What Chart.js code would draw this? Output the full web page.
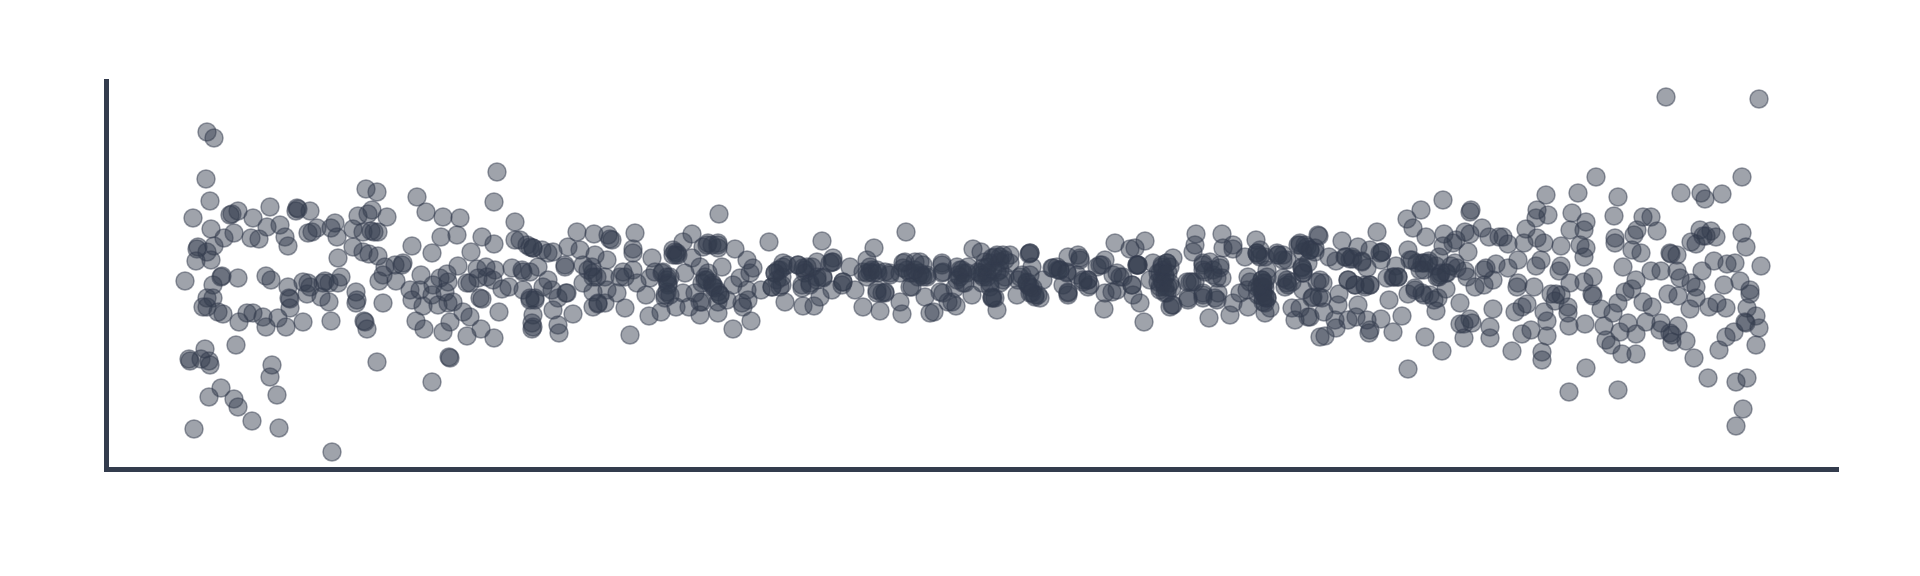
<!DOCTYPE html>
<html>
<head>
<meta charset="utf-8">
<title>Residuals</title>
<script src="https://cdn.jsdelivr.net/npm/chart.js@4"></script>
<style>
body { margin: 0; background: #fff; }
canvas { display: block; }
</style>
</head>
<body>
<canvas id="scatter" width="1920" height="576"></canvas>
<script>
// [index, residual], one list per stretch of the x axis
var leftPoints = [[107,143],[114,137],[106,96],[110,74],[93,57],[111,46],[124,37],[134,42],[138,64],[130,60],[132,61],[153,57],[170,68],[167,48],[180,50],[151,37],[159,36],[185,38],[188,29],[197,67],[196,64],[198,66],[210,64],[208,42],[212,43],[217,47],[231,47],[235,52],[237,38],[98,28],[97,26],[107,23],[114,29],[96,14],[111,15],[85,-6],[113,-10],[122,-1],[121,-2],[138,-3],[166,-1],[171,-5],[188,-12],[203,-7],[208,-8],[207,-19],[210,-12],[221,-22],[223,-8],[225,-6],[229,-8],[229,-27],[238,-8],[241,-2],[189,-23],[190,-24],[190,-33],[113,-23],[107,-23],[103,-32],[107,-32],[118,-37],[123,-39],[139,-47],[147,-38],[153,-38],[163,-42],[166,-52],[178,-43],[186,-52],[203,-47],[231,-46],[256,-17],[257,-25],[256,-28],[283,-28],[265,-47],[264,-46],[267,-54],[136,-70],[105,-74],[89,-84],[90,-86],[101,-84],[109,-86],[110,-90],[121,-113],[109,-122],[134,-124],[138,-132],[172,-90],[170,-102],[177,-120],[152,-146],[94,-154],[179,-153],[232,-177],[277,-87],[332,-107],[349,-82],[350,-83],[266,86],[277,83],[317,78],[326,63],[343,58],[360,57],[272,65],[258,59],[268,61],[287,58],[253,46],[263,43],[271,44],[274,43],[278,43],[253,28],[263,23],[269,21],[278,19],[312,29],[332,22],[341,38],[357,40],[382,38],[394,31],[371,23],[397,103],[394,73],[415,53],[415,35],[420,35],[427,30],[433,27],[238,17],[285,8],[295,10],[303,12],[302,10],[283,0],[279,-6],[296,-6],[321,0],[358,9],[377,6],[386,8],[395,5],[412,7],[422,5],[423,3],[310,-15],[312,-25],[323,-31],[320,-15],[333,-10],[332,-20],[338,-30],[340,-3],[347,1],[348,-7],[345,-17],[348,-28],[353,-27],[367,-8],[370,-8],[378,-3],[387,-2],[393,-5],[402,-14],[409,-12],[423,-15],[380,-23],[382,-24],[363,-37],[370,-42],[399,-37],[350,-47],[316,-46],[324,-54],[343,-57],[367,-61],[381,-54],[394,-63],[430,-23],[435,-25],[433,-40],[432,-48],[432,-54]];
var midLeftPoints = [[430,28],[433,27],[442,25],[448,22],[453,23],[468,28],[477,43],[494,41],[508,40],[510,36],[512,35],[480,25],[495,20],[507,15],[465,10],[465,8],[483,10],[492,8],[493,2],[488,5],[497,-2],[483,-8],[505,-2],[523,3],[533,5],[520,-2],[525,-2],[537,-8],[448,-5],[443,-12],[438,8],[430,3],[452,-15],[458,-23],[467,-18],[466,-18],[435,-23],[430,-25],[453,-35],[473,-39],[433,-52],[458,-50],[459,-58],[493,-17],[493,-32],[498,-28],[498,-29],[505,-28],[507,-15],[517,-18],[525,-33],[546,-20],[549,-41],[561,-37],[576,-32],[589,-32],[600,-40],[618,-38],[530,-60],[535,42],[533,26],[533,22],[552,17],[550,-3],[555,3],[562,2],[567,-2],[568,-8],[567,-17],[565,-23],[573,25],[577,22],[576,20],[583,33],[592,41],[592,17],[585,2],[583,-18],[600,8],[607,30],[608,32],[618,32],[618,27],[635,26],[619,61],[622,8],[605,-2],[612,-8],[618,-17],[620,-20],[600,-27],[602,-8],[595,-18],[627,-25],[633,-10],[640,-3],[647,15],[653,7],[650,2],[642,-28],[643,-32],[648,-25],[647,-15],[651,-46],[633,-54],[669,33],[661,-15],[672,-12],[675,2],[680,5],[683,12],[680,-12],[685,-27],[698,10],[703,7],[707,8],[702,-13],[703,-31],[714,-31],[720,-22],[710,-8],[717,-5],[723,-2],[732,-15],[722,34],[717,13],[732,13],[733,17],[743,-7],[755,-15],[750,8],[763,-32],[767,15],[774,27],[770,3],[767,2],[777,-18],[780,-36],[785,-18],[785,3],[790,0],[800,-27],[802,-39],[806,43],[805,13],[807,5],[810,-12],[815,13],[820,2],[823,10],[825,-22],[830,-38],[678,5],[682,-10],[705,5],[772,5],[777,5],[813,2],[818,-2],[607,-5],[613,-12],[567,-5],[493,-2],
	[575,23],[578,20],[573,20],[563,3],[570,-2],[568,-10],[565,-20],[570,-20],[603,28],[612,30],[618,30],[605,-5],[615,-13],[620,-20],[602,-27],[618,-27],[608,2],[613,-10],[675,2],[683,8],[672,-12],[677,-5],[682,-2],[687,10],[698,10],[705,2],[712,8],[717,-2],[710,-10],[723,-3],[702,-10],[733,13],[730,12],[743,-7],[742,-10],[763,3],[770,8],[773,2],[767,-2],[778,2],[790,2],[785,-17],[782,-18],[777,-15],[803,7],[810,2],[815,5],[822,0],[827,-2],[800,2],[812,-12],[803,12]];
var midRightPoints = [[820,13],[823,-2],[834,-37],[842,12],[842,2],[843,-18],[848,-27],[856,-31],[860,5],[860,-2],[863,-8],[855,-13],[872,-20],[868,8],[873,26],[881,23],[880,2],[883,-2],[887,8],[892,17],[897,20],[900,5],[905,15],[910,20],[892,-23],[895,-23],[897,-35],[890,-8],[903,-5],[917,-20],[920,-2],[930,22],[929,21],[932,8],[927,-7],[930,-12],[935,-20],[940,-23],[943,-5],[952,7],[957,8],[960,5],[967,3],[968,18],[978,20],[980,15],[968,-18],[968,-20],[963,-10],[988,-5],[990,-10],[997,8],[1005,15],[1002,10],[1015,32],[1030,26],[1035,27],[1045,34],[1037,10],[1038,10],[1017,2],[1020,-2],[1005,-18],[1012,-17],[1017,-15],[1004,-34],[1032,-10],[1033,-20],[1040,-28],[1044,-47],[1053,12],[1050,-5],[1062,8],[1063,5],[1067,12],[1073,17],[1062,-5],[1065,-12],[1067,-18],[1070,-32],[1073,-30],[1087,-7],[1088,-25],[1093,23],[1095,30],[1096,41],[1103,12],[1103,5],[1103,-20],[1103,-23],[1092,-7],[1110,13],[1113,5],[1117,-25],[1120,7],[1122,-3],[1118,-18],[1122,41],[1123,27],[1133,30],[1133,26],[1109,-43],[1130,-40],[1133,-28],[1148,-32],[1145,18],[1157,22],[1156,35],[1148,-2],[1140,-18],[1163,-8],[1165,-13],[1163,-22],[1165,-28],[1165,-38],[1170,-33],[1167,5],[1165,18],[1178,20],[1187,15],[1187,-8],[1185,-12],[1192,-33],[1195,-45],[1200,-33],[1208,-42],[1203,-15],[1212,-23],[1203,2],[1202,8],[1200,30],[1203,23],[1210,25],[1218,40],[1217,-7],[1219,-22],[1220,-62],[827,0],[882,0],[887,2],[893,5],[885,13],[900,18],[863,2],[857,8],[928,-10],[932,-18],[1058,2],[1060,-12],[1065,-2],[1068,-12],[1162,-12],[1162,-5],[1163,-18],[1167,-23],[1160,18],[958,5],
	[842,10],[843,3],[840,-17],[852,-27],[858,0],[862,5],[857,-5],[867,2],[865,-8],[878,3],[883,7],[887,-2],[890,12],[895,18],[900,13],[903,20],[897,3],[905,-2],[910,12],[882,-8],[890,-12],[900,-8],[893,-23],[892,-22],[930,22],[930,0],[922,0],[927,-8],[933,-13],[935,-22],[938,-20],[930,-18],[918,-5],[953,7],[960,5],[967,2],[977,0],[983,-7],[988,-12],[980,17],[968,-17],[988,-5],[983,-5],[1000,10],[1013,0],[1023,-2],[1032,-10],[1037,10],[1038,10],[1062,10],[1067,12],[1070,8],[1060,2],[1065,0],[1068,2],[1058,-7],[1063,-8],[1070,-8],[1060,-15],[1065,-18],[1072,-13],[1072,-30],[1090,-7],[1095,-7],[1103,10],[1105,3],[1113,0],[1117,-3],[1120,10],[1103,-18],[1115,-23],[1088,-23],[1157,22],[1160,25],[1162,-5],[1165,-8],[1160,-12],[1163,-17],[1158,-20],[1167,-23],[1163,-27],[1147,-15],[1150,-7],[1177,22],[1183,20],[1187,-5],[1188,-10],[1183,-3],[1203,2],[1202,7],[1200,32],[1207,28],[1158,20],[1163,-12],[1165,-22],[1157,-12],[1167,-2],[1178,20],[1183,15],[1192,-7],[1198,30],[1205,30],[1203,5],[1208,12],[1215,27]];
var rightPoints = [[1219,39],[1210,25],[1215,23],[1229,18],[1236,14],[1242,34],[1246,18],[1253,16],[1258,28],[1262,14],[1270,25],[1277,43],[1282,23],[1281,15],[1267,7],[1287,-3],[1294,-2],[1298,-2],[1296,9],[1308,25],[1310,15],[1317,12],[1324,12],[1329,14],[1320,5],[1336,9],[1341,2],[1346,2],[1351,9],[1355,12],[1365,4],[1344,41],[1343,29],[1339,18],[1356,35],[1368,23],[1343,75],[1321,65],[1307,56],[1313,47],[1326,38],[1371,65],[1370,63],[1365,43],[1370,41],[1382,47],[1389,38],[1399,38],[1403,38],[1408,31],[1426,46],[1424,32],[1418,15],[1396,11],[1386,7],[1384,5],[1408,7],[1367,-2],[1375,-12],[1384,-10],[1393,-5],[1418,-8],[1417,-12],[1434,-12],[1436,9],[1441,15],[1444,32],[1437,37],[1436,57],[1448,60],[1446,80],[1437,65],[1461,29],[1472,62],[1478,82],[1496,98],[1518,78],[1514,59],[1486,53],[1484,45],[1470,45],[1480,30],[1486,27],[1484,18],[1515,37],[1515,32],[1534,40],[1537,45],[1543,58],[1551,58],[1557,44],[1532,25],[1541,22],[1523,8],[1461,9],[1459,4],[1470,-8],[1484,-7],[1493,-2],[1492,-19],[1493,-21],[1451,-19],[1456,-19],[1461,-20],[1455,-26],[1444,-37],[1468,-32],[1468,-38],[1447,-46],[1469,-51],[1485,-49],[1501,-34],[1513,-38],[1504,-51],[1518,-28],[1525,-17],[1532,-14],[1536,-5],[1543,-27],[1552,-32],[1546,-47],[1528,-48],[1520,-57],[1536,-59],[1506,-65],[1511,-70],[1522,-79],[1536,-79],[1486,-93],[1469,-117],[1518,-115],[1551,4],[1561,4],[1570,22],[1571,21],[1577,20],[1577,4],[1580,-3],[1568,-19],[1578,-21],[1591,-8],[1596,-12],[1596,-23],[1590,-34],[1609,-32],[1617,-28],[1626,-33],[1602,4],[1614,14],[1627,11],[1635,12],[1661,9],[1624,-10],[1640,-6],[1650,-15],[1650,-19],[1647,-33],[1656,-41],[1645,-47],[1646,-48],[1659,-53],[1634,-57],[1626,-62],[1619,-75],[1656,-70],[1594,-83],[1608,-103],[1636,-107],[1647,-103],[1643,-134],[1636,-151],[1561,-48],[1560,-55],[1578,-51],[1570,-58],[1572,-60],[1572,-67],[1586,-66],[1566,178],[1659,176],[1642,98],[1581,82],[1601,82],[1605,76],[1622,81],[1642,42],[1646,28],[1600,45],[1591,33],[1596,31],[1606,39],[1611,44],[1616,38],[1603,39],[1360,-28],[1336,-36],[1393,-34],[1415,-37],[1427,-29],[1422,-32],[1360,-49],[1372,-48],[1370,-44],[1364,-49],[1364,-63],[1390,-52],[1390,-63],[1422,-59],[1431,-55],[1447,-61],[1442,-77],[1442,-85],[1412,-76],[1342,-76],[1325,-62],[1308,-94],[1293,-57],[1302,-41],[1281,-44],[1289,-25],[1270,-55],[1269,-58],[1267,-45],[1256,-42],[1258,-30],[1248,-45],[1236,-53],[1235,-45],[1225,-61],[1224,-37],[1210,-42],[1238,-30],[1239,-19],[1222,-23],[1213,-22],[1220,-5],[1223,-8],[1248,-5],[1255,-10],[1265,-12],[1270,-10],[1308,-19],[1315,-15],[1324,-20],[1334,-25],[1346,-14],[1339,-2],[1324,5],[1250,16],
	[1245,18],[1252,18],[1262,13],[1282,23],[1280,22],[1248,-5],[1255,-10],[1265,-10],[1270,-10],[1293,-2],[1298,-2],[1312,15],[1322,12],[1328,12],[1340,0],[1347,2],[1337,-2],[1315,-13],[1322,-18],[1330,-20],[1338,-23],[1357,7],[1353,32]];

var points = leftPoints.concat(midLeftPoints, midRightPoints, rightPoints).map(function (p) {
	return { x: p[0], y: p[1] };
});

var axisColor = '#333c4d';

new Chart(document.getElementById('scatter'), {
	type: 'scatter',
	data: {
		datasets: [{
			data: points,
			backgroundColor: 'rgba(51,60,77,0.47)',
			borderColor: 'rgba(51,60,77,0.5)',
			borderWidth: 1.5,
			pointRadius: 9,
			clip: false
		}]
	},
	options: {
		responsive: false,
		animation: false,
		layout: { padding: { left: 106, top: 81, right: 82, bottom: 107 } },
		plugins: { legend: { display: false }, tooltip: { enabled: false } },
		scales: {
			x: {
				type: 'linear', min: 6, max: 1738,
				grid: { display: false, drawTicks: false },
				ticks: { display: false },
				border: { color: axisColor, width: 5 }
			},
			y: {
				type: 'linear', min: -194, max: 194,
				grid: { display: false, drawTicks: false },
				ticks: { display: false },
				border: { color: axisColor, width: 5 }
			}
		}
	}
});
</script>
</body>
</html>
